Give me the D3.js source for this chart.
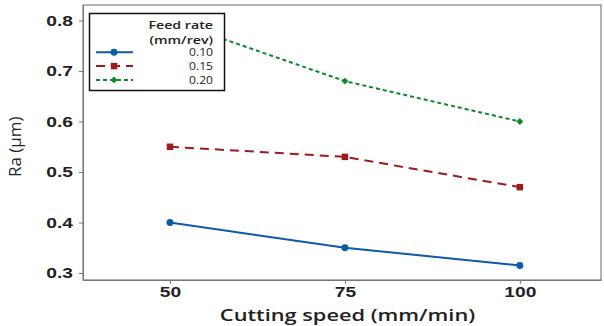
<!DOCTYPE html>
<html>
<head>
<meta charset="utf-8">
<script src="https://cdn.jsdelivr.net/npm/d3@7"></script>
<style>
    body { margin: 0; background: #fff; }
    svg { display: block; font-family: "Open Sans", "Noto Sans", sans-serif; }
    .axis text { font-size: 15px; font-weight: 600; fill: #222; }
    .axis path, .axis line { stroke: #777; }
    .label { font-size: 16px; font-weight: 600; fill: #222; }
    .legend text { font-size: 10.5px; fill: #222; }
</style>
</head>
<body>
<svg id="svgChart" width="604" height="326"></svg>
<script>
// Chart data
var speeds = [50, 75, 100];
var feedRates = ["0.10", "0.15", "0.20"];
var ra010 = [0.40, 0.35, 0.315];
var ra015 = [0.55, 0.53, 0.47];
var ra020 = [0.80, 0.68, 0.60];
var yTicks = [0.3, 0.4, 0.5, 0.6, 0.7, 0.8];

var seriesStyle = [
    { name: feedRates[0], values: ra010, colour: "#0d5aa7", dash: null, marker: "circle" },
    { name: feedRates[1], values: ra015, colour: "#9c1c1c", dash: "9,6", marker: "square" },
    { name: feedRates[2], values: ra020, colour: "#0b8a2c", dash: "4,3", marker: "diamond" }
];

var padding = { top: 5, right: 3, bottom: 46, left: 83 };
var svgWidth = 604, svgHeight = 326;
var chartWidth = svgWidth - padding.left - padding.right;
var chartHeight = svgHeight - padding.top - padding.bottom;

// The source picture is stretched sideways, so stretch text to match
function stretch(selection, factor) {
    selection.each(function() {
        var len = this.getComputedTextLength();
        d3.select(this)
            .attr("textLength", len * factor)
            .attr("lengthAdjust", "spacingAndGlyphs");
    });
}

var svg = d3.select("#svgChart");
var chart = svg.append("g")
    .attr("transform", `translate(${padding.left}, ${padding.top})`);

var xScale = d3.scaleLinear()
    .domain([37.57, 111.6])
    .range([0, chartWidth]);

var yScale = d3.scaleLinear()
    .domain([0.2862, 0.8307])
    .range([chartHeight, 0]);

// Frame
chart.append("rect")
    .attr("width", chartWidth)
    .attr("height", chartHeight)
    .attr("fill", "none")
    .attr("stroke", "#666")
    .attr("stroke-width", 1);

// Axes
chart.append("g")
    .attr("class", "axis")
    .attr("transform", `translate(0, ${chartHeight})`)
    .call(d3.axisBottom(xScale).tickValues(speeds).tickSize(4).tickPadding(2).tickSizeOuter(0));

chart.append("g")
    .attr("class", "axis")
    .call(d3.axisLeft(yScale).tickValues(yTicks).tickFormat(d3.format(".1f")).tickSize(4).tickPadding(6).tickSizeOuter(0));

chart.selectAll(".axis .domain").attr("stroke", "#666");
stretch(chart.selectAll(".axis text"), 1.28);

// Axis labels
svg.append("text")
    .attr("class", "label")
    .attr("x", 347.5)
    .attr("y", 320.5)
    .attr("text-anchor", "middle")
    .text("Cutting speed (mm/min)")
    .call(stretch, 1.36);

svg.append("text")
    .attr("class", "label")
    .attr("transform", `translate(21, ${yScale(0.55) + padding.top}) rotate(-90)`)
    .attr("text-anchor", "middle")
    .style("font-weight", "400")
    .style("font-family", "'Liberation Sans Narrow', 'Open Sans', sans-serif")
    .style("font-size", "17px")
    .text("Ra (µm)");

// Marker shapes
function markerPath(type) {
    if (type === "circle") return d3.symbol().type(d3.symbolCircle).size(38)();
    if (type === "square") return d3.symbol().type(d3.symbolSquare).size(42)();
    return d3.symbol().type(d3.symbolSquare).size(24)();
}

function markerTransform(type, x, y) {
    return `translate(${x}, ${y})` + (type === "diamond" ? " rotate(45)" : "");
}

var line = d3.line()
    .x(function(d, i) { return xScale(speeds[i]); })
    .y(function(d) { return yScale(d); });

seriesStyle.forEach(function(s) {
    chart.append("path")
        .datum(s.values)
        .attr("d", line)
        .attr("fill", "none")
        .attr("stroke", s.colour)
        .attr("stroke-width", 2)
        .attr("stroke-dasharray", s.dash);

    chart.selectAll(".pt" + s.marker)
        .data(s.values)
        .enter()
        .append("path")
        .attr("d", markerPath(s.marker))
        .attr("transform", function(d, i) {
            return markerTransform(s.marker, xScale(speeds[i]), yScale(d));
        })
        .attr("fill", s.colour);
});

// Legend
var legend = svg.append("g").attr("class", "legend");
legend.append("rect")
    .attr("x", 89.5)
    .attr("y", 13.5)
    .attr("width", 135)
    .attr("height", 77)
    .attr("fill", "#fff")
    .attr("stroke", "#111")
    .attr("stroke-width", 1.5);

legend.append("text")
    .attr("x", 213)
    .attr("y", 29)
    .attr("text-anchor", "end")
    .style("font-weight", "600")
    .text("Feed rate")
    .call(stretch, 1.35);
legend.append("text")
    .attr("x", 213)
    .attr("y", 43.5)
    .attr("text-anchor", "end")
    .style("font-weight", "600")
    .text("(mm/rev)")
    .call(stretch, 1.35);

seriesStyle.forEach(function(s, i) {
    var ly = 52.3 + i * 13.8;
    legend.append("line")
        .attr("x1", 96)
        .attr("x2", 133)
        .attr("y1", ly)
        .attr("y2", ly)
        .attr("stroke", s.colour)
        .attr("stroke-width", 2)
        .attr("stroke-dasharray", s.dash);
    legend.append("path")
        .attr("d", markerPath(s.marker))
        .attr("transform", markerTransform(s.marker, 114, ly))
        .attr("fill", s.colour);
    legend.append("text")
        .attr("x", 213)
        .attr("y", ly + 4)
        .attr("text-anchor", "end")
        .text(s.name)
        .call(stretch, 1.15);
});
</script>
</body>
</html>
